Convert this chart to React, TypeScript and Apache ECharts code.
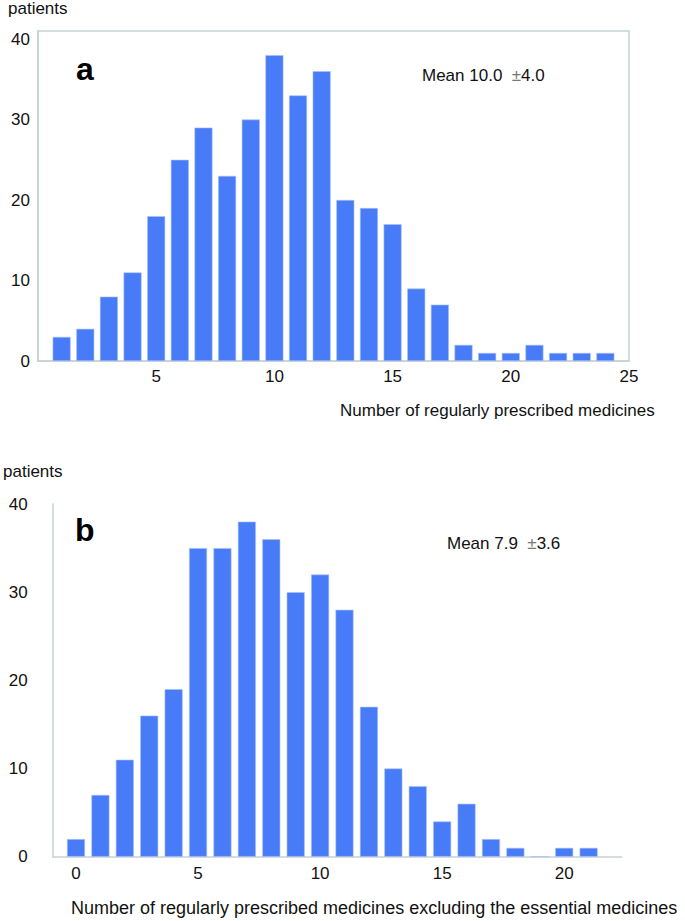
import React, { useEffect, useRef } from "react";
import * as echarts from "echarts";

const medsA = [1, 2, 3, 4, 5, 6, 7, 8, 9, 10, 11, 12, 13, 14, 15, 16, 17, 18, 19, 20, 21, 22, 23, 24];
const patientsA = [3, 4, 8, 11, 18, 25, 29, 23, 30, 38, 33, 36, 20, 19, 17, 9, 7, 2, 1, 1, 2, 1, 1, 1];
const medsB = [0, 1, 2, 3, 4, 5, 6, 7, 8, 9, 10, 11, 12, 13, 14, 15, 16, 17, 18, 19, 20, 21];
const patientsB = [2, 7, 11, 16, 19, 35, 35, 38, 36, 30, 32, 28, 17, 10, 8, 4, 6, 2, 1, 0, 1, 1];

const yTicks = [0, 10, 20, 30, 40];
const xTicksA = [5, 10, 15, 20, 25];
const xTicksB = [0, 5, 10, 15, 20];

const titleA = "Number of regularly prescribed medicines";
const titleB = "Number of regularly prescribed medicines excluding the essential medicines";
const meanA = ["Mean 10.0  ", "4.0"];
const meanB = ["Mean 7.9  ", "3.6"];

const FONT = "'Liberation Sans', Arial, Helvetica, sans-serif";
const AXIS_COLOR = "#c6d2d3";
const BAR_COLOR = "#487bf8";

export default function App() {
  const ref = useRef<HTMLDivElement>(null);
  useEffect(() => {
    if (!ref.current) return;
    const chart = echarts.init(ref.current, null, { renderer: "svg" });
    const labelStyle = { color: "#111", fontSize: 17, fontFamily: FONT };
    const option: any = {
      animation: false,
      backgroundColor: "#fff",
      grid: [
        { left: 38, top: 31, width: 591, height: 330, show: true, borderColor: AXIS_COLOR, borderWidth: 1.5, backgroundColor: "transparent" },
        { left: 52.7, top: 504, width: 569, height: 352.7, show: false },
      ],
      xAxis: [
        {
          type: "value", gridIndex: 0, min: 0, max: 25, interval: 5,
          axisLine: { show: true, onZero: false, lineStyle: { color: AXIS_COLOR, width: 1.5 } },
          axisTick: { show: false }, splitLine: { show: false },
          axisLabel: { ...labelStyle, margin: 7, formatter: (v: number) => (xTicksA.includes(v) ? String(v) : "") },
        },
        {
          type: "value", gridIndex: 1, min: -0.9545, max: 22.355,
          axisLine: { show: true, onZero: false, lineStyle: { color: AXIS_COLOR, width: 1.5 } },
          axisTick: { show: false }, splitLine: { show: false },
          axisLabel: { ...labelStyle, margin: 8, formatter: (v: number) => (xTicksB.includes(v) ? String(v) : "") },
        },
      ],
      yAxis: [
        {
          type: "value", gridIndex: 0, min: 0, max: 41,
          axisLine: { show: true, onZero: false, lineStyle: { color: AXIS_COLOR, width: 1.5 } },
          axisTick: { show: false }, splitLine: { show: false },
          axisLabel: { ...labelStyle, margin: 8, showMaxLabel: false, formatter: (v: number) => (yTicks.includes(v) ? String(v) : "") },
        },
        {
          type: "value", gridIndex: 1, min: 0, max: 40, interval: 10,
          axisLine: { show: true, onZero: false, lineStyle: { color: AXIS_COLOR, width: 1.5 } },
          axisTick: { show: false }, splitLine: { show: false },
          axisLabel: { ...labelStyle, margin: 25, formatter: (v: number) => (yTicks.includes(v) ? String(v) : "") },
        },
      ],
      series: [
        {
          type: "bar", xAxisIndex: 0, yAxisIndex: 0, barWidth: 18,
          itemStyle: { color: BAR_COLOR, borderColor: "#a9c1f7", borderWidth: 0.6 },
          data: medsA.map((m, i) => [m, patientsA[i]]),
        },
        {
          type: "bar", xAxisIndex: 1, yAxisIndex: 1, barWidth: 18,
          itemStyle: { color: BAR_COLOR, borderColor: "#a9c1f7", borderWidth: 0.6 },
          data: medsB.map((m, i) => [m, patientsB[i]]),
        },
      ],
      graphic: [
        { type: "text", left: 8, top: 0, style: { text: "patients", fontSize: 17, fontFamily: FONT, fill: "#111" } },
        { type: "text", left: 3, top: 463, style: { text: "patients", fontSize: 17, fontFamily: FONT, fill: "#111" } },
        { type: "text", left: 76, top: 53, style: { text: "a", fontSize: 32, fontWeight: "bold", fontFamily: FONT, fill: "#000" } },
        { type: "text", left: 75, top: 514, style: { text: "b", fontSize: 32, fontWeight: "bold", fontFamily: FONT, fill: "#000" } },
        {
          type: "text", left: 422, top: 67,
          style: {
            text: meanA[0] + "{pm|±}" + meanA[1], fontSize: 17, fontFamily: FONT, fill: "#111",
            rich: { pm: { fontSize: 17, fontFamily: FONT, fill: "#777", color: "#777" } },
          },
        },
        {
          type: "text", left: 447, top: 535,
          style: {
            text: meanB[0] + "{pm|±}" + meanB[1], fontSize: 17, fontFamily: FONT, fill: "#111",
            rich: { pm: { fontSize: 17, fontFamily: FONT, fill: "#777", color: "#777" } },
          },
        },
        { type: "text", left: 340, top: 402, style: { text: titleA, fontSize: 17, fontFamily: FONT, fill: "#111" } },
        { type: "text", left: 71, top: 899, style: { text: titleB, fontSize: 18, fontFamily: FONT, fill: "#111" } },
      ],
    };
    chart.setOption(option);
    return () => chart.dispose();
  }, []);
  return <div ref={ref} style={{ position: "absolute", left: 0, top: 0, width: 685, height: 921 }} />;
}
